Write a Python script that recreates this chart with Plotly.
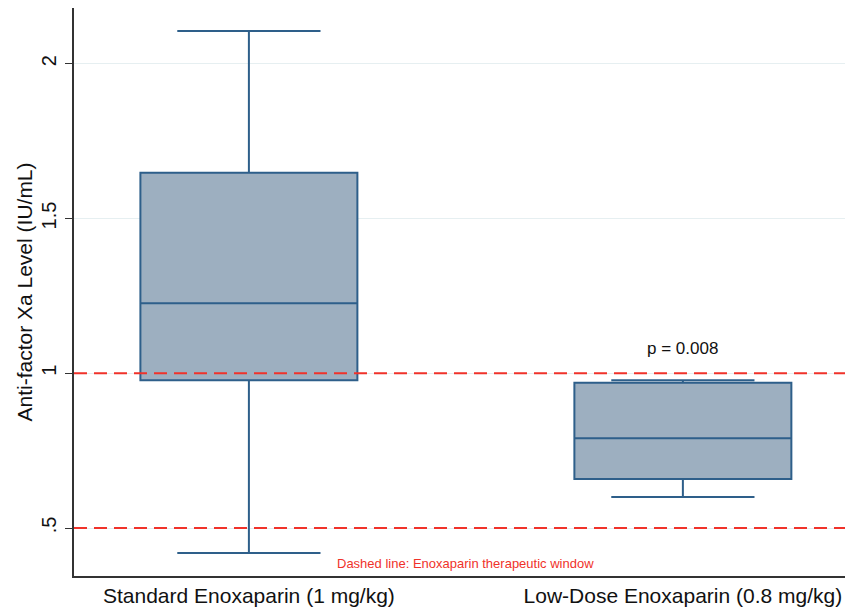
import plotly.graph_objects as go

categories = ["Standard Enoxaparin (1 mg/kg)", "Low-Dose Enoxaparin (0.8 mg/kg)"]
q1 = [0.977, 0.658]
median = [1.226, 0.790]
q3 = [1.648, 0.969]
lower_whisker = [0.419, 0.600]
upper_whisker = [2.106, 0.977]
window = [0.5, 1.0]
ytick_vals = [0.5, 1.0, 1.5, 2.0]
ytick_text = [".5", "1", "1.5", "2"]
p_text = "p = 0.008"

fig = go.Figure()
for i in range(len(categories)):
    fig.add_trace(go.Box(
        x=[i], q1=[q1[i]], median=[median[i]], q3=[q3[i]],
        lowerfence=[lower_whisker[i]], upperfence=[upper_whisker[i]],
        width=0.5, whiskerwidth=0.66,
        fillcolor="#9DAFC0", line=dict(color="#2E5F8A", width=2),
        boxpoints=False, showlegend=False, hoverinfo="skip",
    ))

for v in window:
    fig.add_shape(type="line", xref="paper", x0=0, x1=1, yref="y", y0=v, y1=v,
                  line=dict(color="#F0322A", width=2, dash="13px,7px"), layer="above")

fig.add_annotation(x=1, y=1.08, xref="x", yref="y", text=p_text, showarrow=False,
                   font=dict(size=17, color="#111", family="Liberation Sans, Arial"))
fig.add_annotation(x=0.5, y=0.387, xref="x", yref="y",
                   text="Dashed line: Enoxaparin therapeutic window", showarrow=False,
                   font=dict(size=13, color="#F0322A", family="Liberation Sans, Arial"))

fig.update_layout(
    width=845, height=606,
    margin=dict(l=66, r=0, t=0, b=38),
    paper_bgcolor="white", plot_bgcolor="white",
    font=dict(family="Liberation Sans, Arial", color="#111"),
    xaxis=dict(range=[-0.403, 1.392], tickvals=[0, 1], ticktext=categories,
               tickfont=dict(size=21), showline=True, linecolor="#333", linewidth=2,
               ticks="", showgrid=False, zeroline=False, automargin=False),
    yaxis=dict(range=[0.345, 2.18], tickvals=ytick_vals, ticktext=ytick_text,
               tickangle=-90, tickfont=dict(size=20), showline=True, linecolor="#333",
               linewidth=2, ticks="outside", ticklen=7, tickcolor="#333",
               ticklabelstandoff=1, automargin=False,
               showgrid=True, gridcolor="#E6EFF1", gridwidth=1, zeroline=False,
               title=dict(text="Anti-factor Xa Level (IU/mL)", font=dict(size=21), standoff=0)),
)
fig.write_html("out.html")
